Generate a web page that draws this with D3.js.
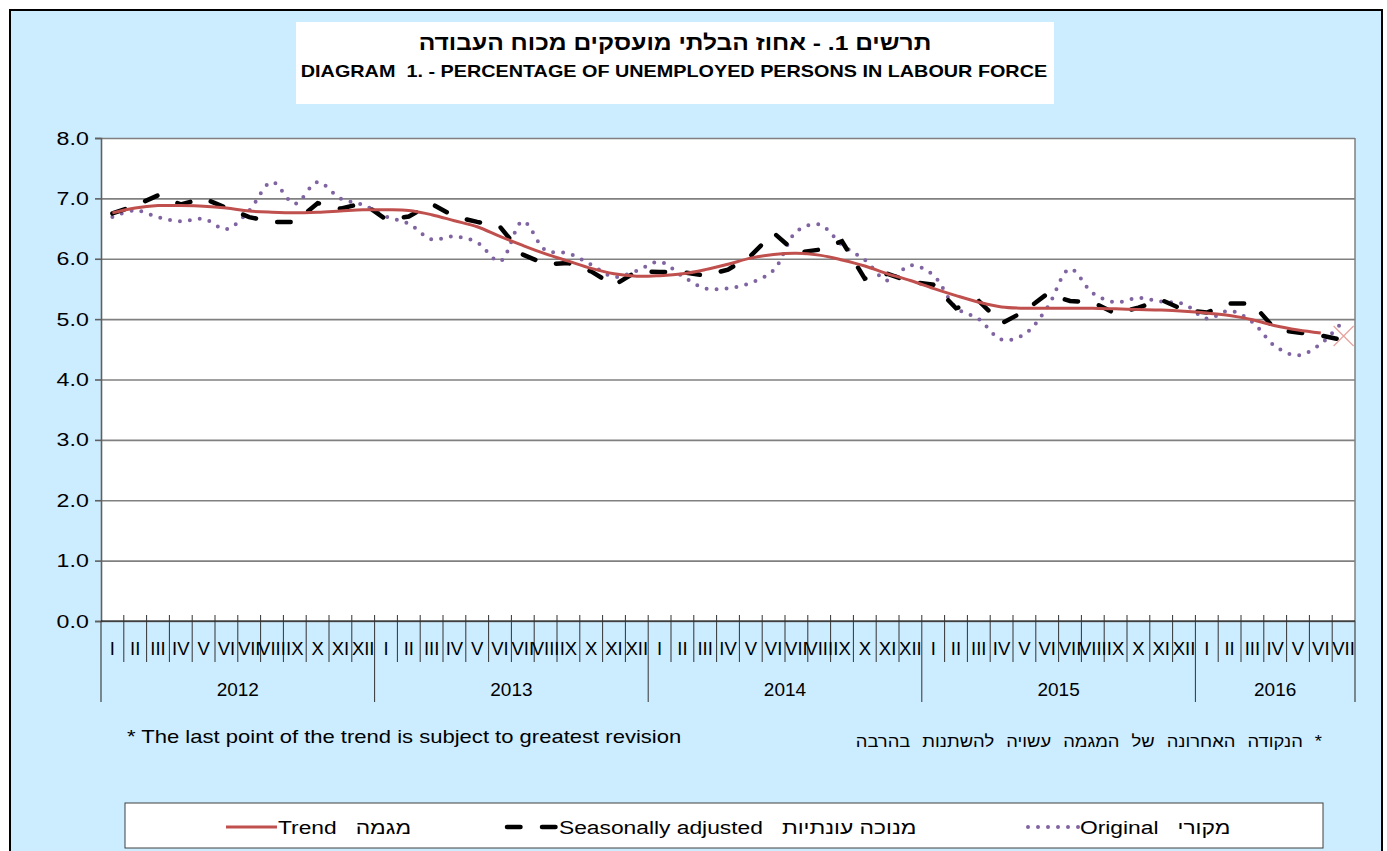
<!DOCTYPE html>
<html>
<head>
<meta charset="utf-8">
<script src="https://cdn.jsdelivr.net/npm/d3@7"></script>
<style>
  body { margin: 0; background: #fff; }
  svg text { font-family: Arial, "Liberation Sans", sans-serif; fill: #000; }
</style>
</head>
<body>
<div id="chart"></div>
<script>
// Data (monthly, I-2012 .. VII-2016)
const monthNames = ["I", "II", "III", "IV", "V", "VI", "VII", "VIII", "IX", "X", "XI", "XII"];
const years = [2012, 2013, 2014, 2015, 2016];
const monthsPerYear = [12, 12, 12, 12, 7];
const yTicks = [0, 1, 2, 3, 4, 5, 6, 7, 8];

const original = [
  6.69, 6.80, 6.69, 6.62, 6.66, 6.49, 6.80, 7.27, 6.91, 7.27, 7.00, 6.89,
  6.70, 6.58, 6.32, 6.37, 6.27, 5.96, 6.62, 6.14, 6.09, 5.90, 5.70, 5.80,
  5.95, 5.71, 5.51, 5.51, 5.60, 5.81, 6.45, 6.57, 6.23, 5.98, 5.64, 5.89,
  5.73, 5.19, 5.00, 4.66, 4.75, 5.19, 5.83, 5.43, 5.28, 5.35, 5.29, 5.25,
  5.01, 5.14, 4.95, 4.55, 4.40, 4.59, 4.98
];
const seasonallyAdjusted = [
  6.75, 6.88, 7.05, 6.90, 7.00, 6.84, 6.69, 6.61, 6.61, 6.92, 6.83, 6.92,
  6.65, 6.70, 6.91, 6.70, 6.61, 6.53, 6.07, 5.91, 5.93, 5.79, 5.56, 5.79,
  5.78, 5.78, 5.72, 5.82, 6.05, 6.43, 6.10, 6.15, 6.29, 5.67, 5.75, 5.62,
  5.57, 5.18, 5.30, 4.93, 5.13, 5.42, 5.30, 5.28, 5.09, 5.19, 5.32, 5.15,
  5.11, 5.26, 5.26, 4.83, 4.78, 4.73, 4.65
];
const trend = [
  6.76, 6.84, 6.88, 6.88, 6.87, 6.84, 6.79, 6.77, 6.76, 6.77, 6.79, 6.81,
  6.81, 6.80, 6.73, 6.63, 6.53, 6.37, 6.22, 6.08, 5.96, 5.84, 5.75, 5.71,
  5.72, 5.75, 5.82, 5.91, 6.01, 6.07, 6.09, 6.06, 5.98, 5.88, 5.75, 5.64,
  5.51, 5.39, 5.28, 5.20, 5.18, 5.18, 5.18, 5.18, 5.17, 5.16, 5.15, 5.13,
  5.10, 5.06, 4.99, 4.89, 4.82, 4.77, 4.72
];

const width = 1387;
const height = 851;
const plot = { left: 101, right: 1355, top: 138, bottom: 621 };

// build month categories
const categories = [];
years.forEach((yr, yi) => {
  for (let m = 0; m < monthsPerYear[yi]; m++) {
    categories.push({ key: yr + "-" + m, year: yr, label: monthNames[m] });
  }
});

const svg = d3.select("#chart")
  .append("svg")
  .attr("width", width)
  .attr("height", height);

// text helper: the original picture has slightly widened lettering
function addText(parent, x, y, str, size, sx, opts = {}) {
  return parent.append("text")
    .attr("transform", `translate(${x},${y}) scale(${sx},1)`)
    .attr("text-anchor", opts.anchor || "start")
    .style("font-size", size + "px")
    .style("font-weight", opts.bold ? "bold" : "normal")
    .style("word-spacing", opts.wordSpacing || "0px")
    .style("white-space", "pre")
    .text(str);
}

// background + frame
svg.append("rect")
  .attr("x", 10).attr("y", 10)
  .attr("width", 1372).attr("height", 900)
  .attr("fill", "#CCECFF")
  .attr("stroke", "#000")
  .attr("stroke-width", 2);

// title box
svg.append("rect")
  .attr("x", 296).attr("y", 22)
  .attr("width", 758).attr("height", 82)
  .attr("fill", "#fff");

addText(svg, 675, 50, "תרשים 1. - אחוז הבלתי מועסקים מכוח העבודה", 21, 1.17, { anchor: "middle", bold: true })
  .attr("direction", "rtl");
addText(svg, 674, 77, "DIAGRAM  1. - PERCENTAGE OF UNEMPLOYED PERSONS IN LABOUR FORCE", 16.5, 1.2, { anchor: "middle", bold: true });

// scales
const x = d3.scaleBand()
  .domain(categories.map(d => d.key))
  .range([plot.left, plot.right])
  .padding(0);

const y = d3.scaleLinear()
  .domain([0, 8])
  .range([plot.bottom, plot.top]);

const xc = i => x(categories[i].key) + x.bandwidth() / 2;

// plot area
svg.append("rect")
  .attr("x", plot.left).attr("y", plot.top)
  .attr("width", plot.right - plot.left)
  .attr("height", plot.bottom - plot.top)
  .attr("fill", "#fff");

// gridlines
const grid = svg.append("g")
  .attr("transform", `translate(${plot.left},0)`)
  .call(d3.axisLeft(y).tickValues(yTicks).tickSize(-(plot.right - plot.left)).tickFormat(""));
grid.select(".domain").remove();
grid.selectAll("line").attr("stroke", "#808080").attr("stroke-width", 1.6);

// right border of plot
svg.append("line")
  .attr("x1", plot.right).attr("x2", plot.right)
  .attr("y1", plot.top).attr("y2", plot.bottom)
  .attr("stroke", "#808080").attr("stroke-width", 1.5);

// y axis
const yAxis = svg.append("g")
  .attr("transform", `translate(${plot.left},0)`)
  .call(d3.axisLeft(y).tickValues(yTicks).tickSize(6).tickPadding(4).tickFormat(d3.format(".1f")));
yAxis.select(".domain").attr("stroke", "#606060").attr("stroke-width", 1.6);
yAxis.selectAll("line").attr("stroke", "#606060").attr("stroke-width", 1.6);
yAxis.selectAll("text")
  .attr("transform", "scale(1.22,1)")
  .style("font-size", "19px")
  .style("font-family", "Arial, 'Liberation Sans', sans-serif");

// x axis
const xAxis = svg.append("g");
xAxis.append("line")
  .attr("x1", plot.left).attr("x2", plot.right)
  .attr("y1", plot.bottom).attr("y2", plot.bottom)
  .attr("stroke", "#000").attr("stroke-width", 1);

// month tick marks (between months), longer ones between years
xAxis.selectAll(".mtick")
  .data(categories.slice(1))
  .enter()
  .append("line")
  .attr("x1", d => x(d.key)).attr("x2", d => x(d.key))
  .attr("y1", plot.bottom - 6)
  .attr("y2", d => d.label === "I" ? plot.bottom + 81 : plot.bottom + 41)
  .attr("stroke", "#333").attr("stroke-width", 1);

[plot.left, plot.right].forEach(px => {
  xAxis.append("line")
    .attr("x1", px).attr("x2", px)
    .attr("y1", plot.bottom).attr("y2", plot.bottom + 81)
    .attr("stroke", "#444").attr("stroke-width", 1.2);
});

xAxis.selectAll(".mlabel")
  .data(categories)
  .enter()
  .append("text")
  .attr("x", d => x(d.key) + x.bandwidth() / 2)
  .attr("y", plot.bottom + 34)
  .attr("text-anchor", "middle")
  .style("font-size", "18.5px")
  .text(d => d.label);

// year labels
xAxis.selectAll(".ylabel")
  .data(years)
  .enter()
  .append("text")
  .attr("x", yr => {
    const ks = categories.filter(c => c.year === yr);
    return (x(ks[0].key) + x(ks[ks.length - 1].key) + x.bandwidth()) / 2;
  })
  .attr("y", plot.bottom + 75)
  .attr("text-anchor", "middle")
  .style("font-size", "19px")
  .text(d => d);

// series
const lineSmooth = d3.line()
  .x((d, i) => xc(i))
  .y(d => y(d))
  .curve(d3.curveCatmullRom);

const lineStraight = d3.line()
  .x((d, i) => xc(i))
  .y(d => y(d));

svg.append("path")
  .datum(original)
  .attr("d", lineSmooth)
  .attr("fill", "none")
  .attr("stroke", "#8064A2")
  .attr("stroke-width", 4)
  .attr("stroke-linecap", "round")
  .attr("stroke-dasharray", "0,10");

svg.append("path")
  .datum(seasonallyAdjusted)
  .attr("d", lineStraight)
  .attr("fill", "none")
  .attr("stroke", "#000")
  .attr("stroke-width", 4.5)
  .attr("stroke-linecap", "round")
  .attr("stroke-dasharray", "13.5,21.5");

svg.append("path")
  .datum(trend.slice(0, trend.length - 1))
  .attr("d", lineSmooth)
  .attr("fill", "none")
  .attr("stroke", "#C0504D")
  .attr("stroke-width", 3);

// last trend point: x marker
const lastI = trend.length - 1;
const mx = xc(lastI), my = y(trend[lastI]);
svg.append("path")
  .attr("d", `M${mx - 10},${my - 10}L${mx + 10},${my + 10}M${mx - 10},${my + 10}L${mx + 10},${my - 10}`)
  .attr("stroke", "#E8A09E")
  .attr("stroke-width", 1.2)
  .attr("fill", "none");

// footnotes
addText(svg, 127, 743, "* The last point of the trend is subject to greatest revision", 19, 1.16);
addText(svg, 1322, 747, "הנקודה האחרונה של המגמה עשויה להשתנות בהרבה *", 16, 1.15, { anchor: "end", wordSpacing: "6px" });

// legend
const legend = svg.append("g");
legend.append("rect")
  .attr("x", 125).attr("y", 803)
  .attr("width", 1198).attr("height", 45)
  .attr("fill", "#fff")
  .attr("stroke", "#404040")
  .attr("stroke-width", 1);

const legendItems = [
  { label: "Trend   מגמה", x: 226, color: "#C0504D", w: 3, dash: null, cap: "butt" },
  { label: "Seasonally adjusted   מנוכה עונתיות", x: 507, color: "#000", w: 4.5, dash: "13.5,21.5", cap: "round" },
  { label: "Original   מקורי", x: 1028, color: "#8064A2", w: 4, dash: "0,10", cap: "round" }
];

legendItems.forEach(it => {
  legend.append("line")
    .attr("x1", it.x).attr("x2", it.x + 51)
    .attr("y1", 827).attr("y2", 827)
    .attr("stroke", it.color)
    .attr("stroke-width", it.w)
    .attr("stroke-linecap", it.cap)
    .attr("stroke-dasharray", it.dash);
  addText(legend, it.x + 52, 834, it.label, 19, 1.2);
});
</script>
</body>
</html>
